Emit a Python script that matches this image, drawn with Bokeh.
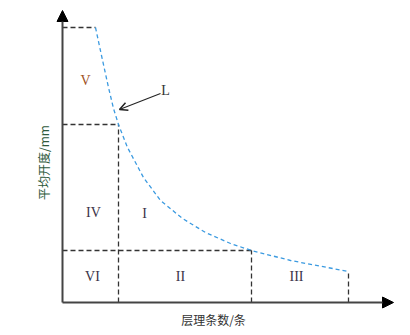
from bokeh.plotting import figure
from bokeh.models import Range1d, Arrow, NormalHead, OpenHead, Label
from bokeh.embed import file_html
from bokeh.resources import INLINE

# Curve L (layer count vs. mean aperture), schematic units
curve_x = [33, 39, 46, 51, 56, 65, 81, 98, 120, 143, 168, 189, 228, 286]
curve_y = [275, 247, 215, 194, 178, 155, 125, 102, 84, 70, 59, 52, 42, 31]

# Zone boundaries
x_breaks = [33, 56, 189, 286]
y_breaks = [275, 178, 52, 31]

zone_labels = ["V", "IV", "I", "VI", "II", "III"]
zone_x = [23, 31, 82, 30, 118, 234]
zone_y = [222, 90, 89, 26, 26, 26]

x_title = "层理条数/条"
y_title = "平均开度/mm"

p = figure(width=400, height=330, output_backend="svg", toolbar_location=None,
           x_range=Range1d(-62, 338), y_range=Range1d(-28, 302),
           min_border=0, min_border_left=0, min_border_right=0,
           min_border_top=0, min_border_bottom=0)
p.axis.visible = False
p.grid.visible = False
p.outline_line_color = None

# dashed guide lines
dash_col = "#333333"
p.segment(x0=[0], y0=[y_breaks[0]], x1=[x_breaks[0]], y1=[y_breaks[0]],
          line_color=dash_col, line_width=1.3, line_dash="5 3")
p.segment(x0=[0, x_breaks[1], 0, x_breaks[2], x_breaks[3]],
          y0=[y_breaks[1], 0, y_breaks[2], 0, 0],
          x1=[x_breaks[1], x_breaks[1], x_breaks[2], x_breaks[2], x_breaks[3]],
          y1=[y_breaks[1], y_breaks[1], y_breaks[2], y_breaks[2], y_breaks[3]],
          line_color=dash_col, line_width=1.3, line_dash="5 3")

# curve
p.line(curve_x, curve_y, line_color="#3b9ae0", line_width=1.3, line_dash="4 3")

# axes with arrows
p.add_layout(Arrow(end=NormalHead(size=11, fill_color="black", line_color="black"),
                   x_start=0, y_start=0, x_end=0, y_end=292,
                   line_color="#444444", line_width=2))
p.add_layout(Arrow(end=NormalHead(size=11, fill_color="black", line_color="black"),
                   x_start=0, y_start=0, x_end=331, y_end=0,
                   line_color="#444444", line_width=2))

# L pointer
p.add_layout(Arrow(end=OpenHead(size=8, line_color="#222222", line_width=1.5),
                   x_start=98, y_start=209, x_end=57, y_end=193,
                   line_color="#222222", line_width=1.2))
p.add_layout(Label(x=103, y=212, text="L", text_font="Liberation Serif",
                   text_font_size="14px", text_color="#333333",
                   text_align="center", text_baseline="middle"))

for t, xx, yy in zip(zone_labels, zone_x, zone_y):
    col = "#a0521e" if t == "V" else "#3a3348"
    p.add_layout(Label(x=xx, y=yy, text=t, text_font="Liberation Serif",
                       text_font_size="14px", text_color=col,
                       text_align="center", text_baseline="middle"))

p.add_layout(Label(x=151, y=-17, text=x_title, text_font="Noto Sans CJK SC",
                   text_font_size="12px", text_color="#333333",
                   text_align="center", text_baseline="middle"))
p.add_layout(Label(x=-19, y=140, text=y_title, text_font="Noto Sans CJK SC",
                   text_font_size="12px", text_color="#2e5a3c", angle=1.5708,
                   text_align="center", text_baseline="middle"))

open("out.html", "w").write(file_html(p, INLINE))
